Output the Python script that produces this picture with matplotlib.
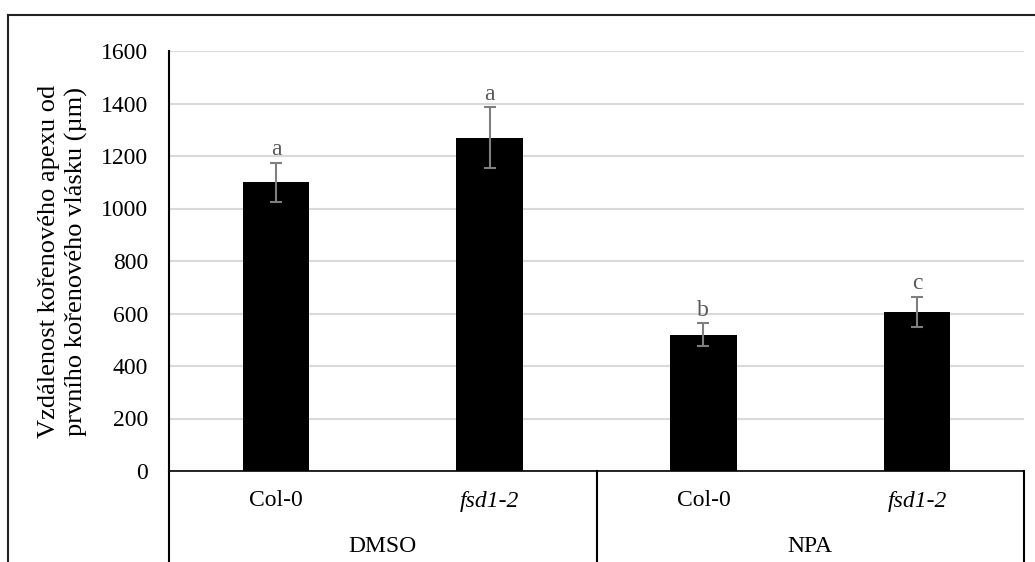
import numpy as np
import matplotlib.pyplot as plt
from matplotlib.lines import Line2D
from matplotlib.transforms import blended_transform_factory

# data
genotypes = ["Col-0", "fsd1-2", "Col-0", "fsd1-2"]
italic = [False, True, False, True]
treatments = ["DMSO", "NPA"]
values = [1100, 1270, 520, 606]
errors = [75, 115, 42, 57]
letters = ["a", "a", "b", "c"]

W, H = 1035, 562
plt.rcParams['font.family'] = ['Liberation Serif', 'DejaVu Serif']
fig = plt.figure(figsize=(W / 100, H / 100), dpi=100)

x0, x1, ytop, ybot = 169, 1024, 51, 471
ax = fig.add_axes([x0 / W, (H - ybot) / H, (x1 - x0) / W, (ybot - ytop) / H])

x = np.arange(len(values))
ax.bar(x, values, width=0.31, color="black", zorder=3)
ax.errorbar(x, values, yerr=errors, fmt="none", ecolor="#7f7f7f",
            elinewidth=1.5, capsize=4.5, capthick=1.5, zorder=4)
for xi, v, e, l in zip(x, values, errors, letters):
    ax.annotate(l, (xi, v + e), xytext=(0, 2), textcoords="offset points",
                ha="center", va="bottom", fontsize=17, color="#595959")

ax.set_xlim(-0.5, len(values) - 0.5)
ax.set_ylim(0, 1600)
ax.set_yticks(np.arange(0, 1601, 200))
ax.tick_params(axis="y", length=0, pad=15, labelsize=17)
ax.set_xticks([])
ax.yaxis.grid(True, color="#d9d9d9", linewidth=1.5, zorder=0)
for s in ["top", "right"]:
    ax.spines[s].set_visible(False)
ax.spines["left"].set_linewidth(1.5)
ax.spines["bottom"].set_linewidth(1.2)

# multi-level category axis
tr = blended_transform_factory(ax.transData, ax.transAxes)
yb = -(H - ybot) / (ybot - ytop) - 0.02
for xv in [-0.5, 1.5, 3.5]:
    ax.add_line(Line2D([xv, xv], [0, yb], transform=tr, color="black",
                       linewidth=1.5, clip_on=False))
for xi, g, it in zip(x, genotypes, italic):
    ax.text(xi, -(501 - ybot) / (ybot - ytop), g, transform=tr, ha="center", va="center",
            fontsize=17, style="italic" if it else "normal")
for i, t in enumerate(treatments):
    ax.text(2 * i + 0.5, -(546 - ybot) / (ybot - ytop), t, transform=tr,
            ha="center", va="center", fontsize=17)

fig.text(63 / W, 1 - 261 / H,
         "Vzdálenost kořenového apexu od\nprvního kořenového vlásku (µm)",
         rotation=90, ha="center", va="center", fontsize=19, linespacing=1.32,
         multialignment="center")

# outer chart border
fig.add_artist(Line2D([8 / W, 1.01], [1 - 15 / H] * 2, transform=fig.transFigure,
                      color="#222222", linewidth=1.5))
fig.add_artist(Line2D([8 / W] * 2, [1 - 15 / H, -0.01], transform=fig.transFigure,
                      color="#222222", linewidth=1.5))

fig.savefig("out.png", dpi=100)
